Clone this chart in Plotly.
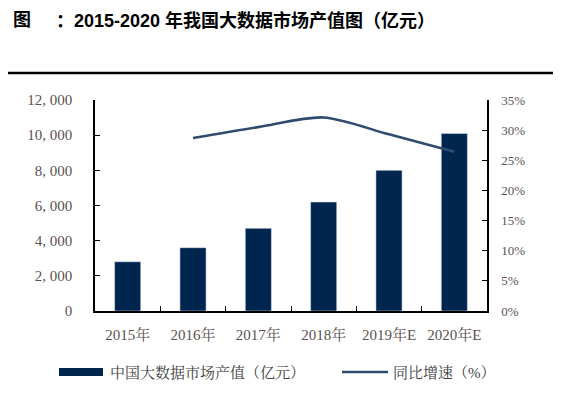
import plotly.graph_objects as go

years = ["2015年", "2016年", "2017年", "2018年", "2019年E", "2020年E"]
output_value = [2800, 3600, 4700, 6200, 8000, 10100]
growth_years = ["2016年", "2017年", "2018年", "2019年E", "2020年E"]
growth_rate = [28.7, 30.5, 32.1, 29.3, 26.4]
left_ticks = [0, 2000, 4000, 6000, 8000, 10000, 12000]
left_labels = ["0", "2, 000", "4, 000", "6, 000", "8, 000", "10, 000", "12, 000"]
right_ticks = [0, 5, 10, 15, 20, 25, 30, 35]
right_labels = [f"{v}%" for v in right_ticks]

OFF = 8  # page body margin
W, H = 561 - OFF, 399 - OFF
L = 95 - OFF
T = 100 - OFF
R = W - (487 - OFF)
B = H - (311 - OFF)
PW, PH = W - L - R, H - T - B

def px(x):
    return (x - OFF - L) / PW

def py(y):
    return (H - B - (y - OFF)) / PH

BAR = "#00264f"
LINE = "#2f4b70"
TICKC = "#5a5252"
serif = "Liberation Serif, Noto Serif CJK SC, Noto Sans CJK SC, serif"
titlefont = "Liberation Sans, Noto Sans CJK SC, sans-serif"

fig = go.Figure()
fig.add_trace(go.Bar(x=years, y=output_value, marker_color=BAR, width=0.4,
                     name="中国大数据市场产值（亿元）", showlegend=False))
fig.add_trace(go.Scatter(x=growth_years, y=growth_rate, yaxis="y2", mode="lines",
                         line=dict(color=LINE, width=2.6, shape="spline", smoothing=0.8),
                         name="同比增速（%）", showlegend=False))

axis_common = dict(showline=True, linecolor="black", linewidth=1.5, ticks="inside",
                   ticklen=5, tickcolor="black", tickwidth=1.2, showgrid=False, zeroline=False)

fig.update_layout(
    width=W, height=H, margin=dict(l=L, r=R, t=T, b=B),
    paper_bgcolor="white", plot_bgcolor="white",
    xaxis=dict(axis_common, type="category", tickson="boundaries", ticklabelstandoff=9,
               categoryorder="array", categoryarray=years,
               tickfont=dict(family=serif, size=15, color=TICKC)),
    yaxis=dict(axis_common, range=[0, 12000], tickvals=left_ticks, ticktext=left_labels,
               ticklabelstandoff=18, tickfont=dict(family=serif, size=15, color=TICKC)),
    yaxis2=dict(axis_common, range=[0, 35], tickvals=right_ticks, ticktext=right_labels,
                overlaying="y", side="right", ticklabelstandoff=10,
                tickfont=dict(family=serif, size=13, color=TICKC)),
    bargap=0.6,
)

# title
fig.add_annotation(text="<b>图</b>", xref="paper", yref="paper", x=px(12), y=py(8.5),
                   xanchor="left", yanchor="top", showarrow=False, borderpad=0,
                   font=dict(family=titlefont, size=18, color="black"))
fig.add_annotation(text="<b>：2015-2020 年我国大数据市场产值图（亿元）</b>", xref="paper", yref="paper",
                   x=px(55), y=py(8.5), xanchor="left", yanchor="top", showarrow=False, borderpad=0,
                   font=dict(family=titlefont, size=18, color="black"))
fig.add_shape(type="line", xref="paper", yref="paper", x0=px(0), x1=px(561), y0=py(73), y1=py(73),
              line=dict(color="black", width=2.5))

# legend
fig.add_shape(type="rect", xref="paper", yref="paper", x0=px(59), x1=px(103), y0=py(368), y1=py(376),
              fillcolor=BAR, line=dict(width=0))
fig.add_annotation(text="中国大数据市场产值（亿元）", xref="paper", yref="paper", x=px(108), y=py(372),
                   xanchor="left", yanchor="middle", showarrow=False,
                   font=dict(family=serif, size=15, color="#404040"))
fig.add_shape(type="line", xref="paper", yref="paper", x0=px(342), x1=px(388), y0=py(372), y1=py(372),
              line=dict(color=LINE, width=2.6))
fig.add_annotation(text="同比增速（%）", xref="paper", yref="paper", x=px(391), y=py(372),
                   xanchor="left", yanchor="middle", showarrow=False,
                   font=dict(family=serif, size=15, color="#404040"))

fig.write_html("out.html")
